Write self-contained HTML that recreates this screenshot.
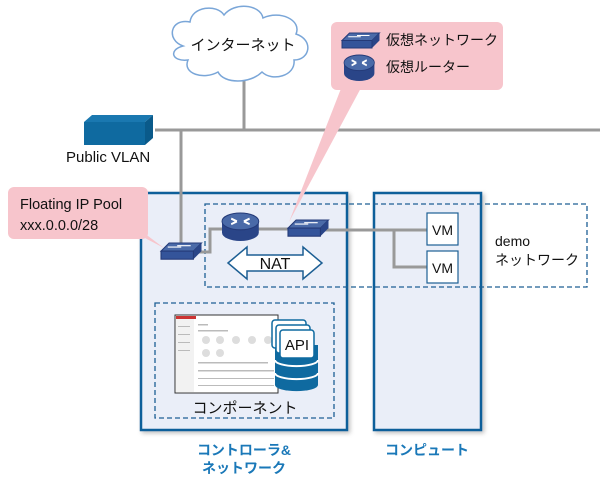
<!DOCTYPE html>
<html><head><meta charset="utf-8"><style>
body{margin:0;background:#fff}
svg text{font-family:"Liberation Sans","Noto Sans CJK JP",sans-serif}
</style></head><body>
<svg width="600" height="491" viewBox="0 0 600 491" xmlns="http://www.w3.org/2000/svg">
<defs>
<filter id="sh" x="-10%" y="-10%" width="130%" height="130%"><feDropShadow dx="2" dy="2" stdDeviation="2" flood-color="#000" flood-opacity="0.25"/></filter>
<g id="sw"><polygon points="0,6 6,0 30,0 24,6" fill="#4a6aa8" stroke="#243a78" stroke-width="0.8"/><polygon points="24,6 30,0 30,6 24,12" fill="#2a4588"/><rect x="0" y="6" width="24" height="6" fill="#34549a" stroke="#243a78" stroke-width="0.8"/><path d="M5,3 h10 M12,2 h10" stroke="#fff" stroke-width="0.8"/></g>
<g id="rt"><path d="M0,6 v8 a16,6 0 0 0 32,0 v-8" fill="#2a4588"/><ellipse cx="16" cy="6" rx="16" ry="6" fill="#4a6aa8" stroke="#243a78" stroke-width="0.8"/><path d="M8,4 l5,2 M24,4 l-5,2 M8,8 l5,-2 M24,8 l-5,-2" stroke="#fff" stroke-width="1.5"/></g>
</defs>
<line x1="155" y1="130" x2="600" y2="130" stroke="#999" stroke-width="3"/>
<line x1="244" y1="72" x2="244" y2="130" stroke="#999" stroke-width="3"/>
<polygon points="84,122 92,115 153,115 145,122" fill="#1a78b0"/>
<polygon points="145,122 153,115 153,138 145,145" fill="#0a5a8a"/>
<rect x="84" y="122" width="61" height="23" fill="#0f6aa0"/>
<text x="66" y="162" font-size="15" fill="#111">Public VLAN</text>
<path d="M183,46 C166,40 170,18 190,22 C192,6 217,4 224,15 C234,2 260,4 263,18 C280,10 302,20 296,34 C314,40 310,60 294,60 C296,76 272,82 262,72 C250,84 224,84 218,72 C204,80 182,74 188,60 C172,62 168,50 183,46 Z" fill="#fff" stroke="#7aa6d8" stroke-width="1.5"/>
<text x="243" y="50" font-size="15" text-anchor="middle" fill="#111">インターネット</text>
<rect x="141" y="193" width="206" height="237" fill="#eaeef8" stroke="#0e5f9a" stroke-width="2.5" filter="url(#sh)"/>
<rect x="374" y="193" width="107" height="237" fill="#eaeef8" stroke="#0e5f9a" stroke-width="2.5" filter="url(#sh)"/>
<rect x="205" y="204" width="382" height="83" fill="none" stroke="#1d5f94" stroke-width="1.3" stroke-dasharray="5,3"/>
<rect x="155" y="303" width="179" height="115" fill="none" stroke="#1d5f94" stroke-width="1.3" stroke-dasharray="5,3"/>
<line x1="181" y1="130" x2="181" y2="250" stroke="#999" stroke-width="3"/>
<polyline points="195,252 210,252 210,229 240,229" fill="none" stroke="#999" stroke-width="3"/>
<line x1="250" y1="229" x2="320" y2="229" stroke="#999" stroke-width="3"/>
<polyline points="320,230 394,230 394,267 428,267" fill="none" stroke="#999" stroke-width="3"/>
<line x1="394" y1="230" x2="428" y2="230" stroke="#999" stroke-width="3"/>
<use href="#sw" transform="translate(161,243) scale(1.35)"/>
<use href="#rt" transform="translate(222,213) scale(1.15,1.4)"/>
<use href="#sw" transform="translate(288,220) scale(1.35)"/>
<polygon points="228,263 247,247 247,255 303,255 303,247 322,263 303,279 303,271 247,271 247,279" fill="#fff" stroke="#1d5f94" stroke-width="1.5"/>
<text x="275" y="269" font-size="16" text-anchor="middle" fill="#111">NAT</text>
<rect x="427" y="213" width="31" height="32" fill="#fff" stroke="#1d5f94" stroke-width="1.2"/>
<text x="442.5" y="235" font-size="14" text-anchor="middle" fill="#111">VM</text>
<rect x="427" y="251" width="31" height="32" fill="#fff" stroke="#1d5f94" stroke-width="1.2"/>
<text x="442.5" y="273" font-size="14" text-anchor="middle" fill="#111">VM</text>
<text x="495" y="246" font-size="14" fill="#111">demo</text>
<text x="495" y="265" font-size="14" fill="#111">ネットワーク</text>
<rect x="175" y="315" width="103" height="78" fill="#fff" stroke="#333" stroke-width="1"/>
<rect x="176" y="316" width="18" height="76" fill="#f2f2f2"/>
<rect x="176" y="316" width="20" height="3" fill="#c33"/>
<g fill="#bbb"><rect x="198" y="324" width="10" height="1.5"/><rect x="198" y="330" width="30" height="1.5"/><rect x="198" y="362" width="70" height="1.5"/><rect x="198" y="370" width="76" height="1.5"/><rect x="198" y="378" width="76" height="1"/><rect x="198" y="385" width="76" height="1"/><rect x="178" y="326" width="12" height="1"/><rect x="178" y="334" width="12" height="1"/><rect x="178" y="342" width="12" height="1"/><rect x="178" y="350" width="12" height="1"/></g>
<g fill="#ddd"><circle cx="206" cy="340" r="4"/><circle cx="220" cy="340" r="4"/><circle cx="236" cy="340" r="4"/><circle cx="252" cy="340" r="4"/><circle cx="268" cy="340" r="4"/><circle cx="206" cy="353" r="4"/><circle cx="220" cy="353" r="4"/></g>
<path d="M275,345 v40 a21,6 0 0 0 43,0 v-40" fill="#0f6aa0"/>
<path d="M275,360 a21,6 0 0 0 43,0 M275,373 a21,6 0 0 0 43,0" fill="none" stroke="#fff" stroke-width="2"/>
<rect x="272" y="320" width="34" height="28" rx="3" fill="#fff" stroke="#0f6aa0" stroke-width="1.5"/>
<rect x="276" y="325" width="34" height="28" rx="3" fill="#fff" stroke="#0f6aa0" stroke-width="1.5"/>
<rect x="280" y="330" width="34" height="28" rx="3" fill="#fff" stroke="#0f6aa0" stroke-width="1.5"/>
<text x="297" y="350" font-size="15" text-anchor="middle" fill="#111">API</text>
<text x="245" y="413" font-size="15" text-anchor="middle" fill="#111">コンポーネント</text>
<text x="244" y="455" font-size="14" font-weight="bold" text-anchor="middle" fill="#1a78b8">コントローラ&amp;</text>
<text x="244" y="473" font-size="14" font-weight="bold" text-anchor="middle" fill="#1a78b8">ネットワーク</text>
<text x="427" y="455" font-size="14" font-weight="bold" text-anchor="middle" fill="#1a78b8">コンピュート</text>
<polygon points="342,86 362,86 289,222" fill="#f7c5cc"/>
<rect x="331" y="22" width="172" height="68" rx="6" fill="#f7c5cc"/>
<use href="#sw" transform="translate(342,33) scale(1.25)"/>
<use href="#rt" transform="translate(344,55) scale(0.95,1.3)"/>
<text x="386" y="45" font-size="14" fill="#111">仮想ネットワーク</text>
<text x="386" y="72" font-size="14" fill="#111">仮想ルーター</text>
<polygon points="120,225 140,230 164,248" fill="#f7c5cc"/>
<rect x="8" y="187" width="140" height="52" rx="6" fill="#f7c5cc"/>
<text x="20" y="209" font-size="14.5" fill="#111">Floating IP Pool</text>
<text x="20" y="230" font-size="14.5" fill="#111">xxx.0.0.0/28</text>
</svg>
</body></html>
